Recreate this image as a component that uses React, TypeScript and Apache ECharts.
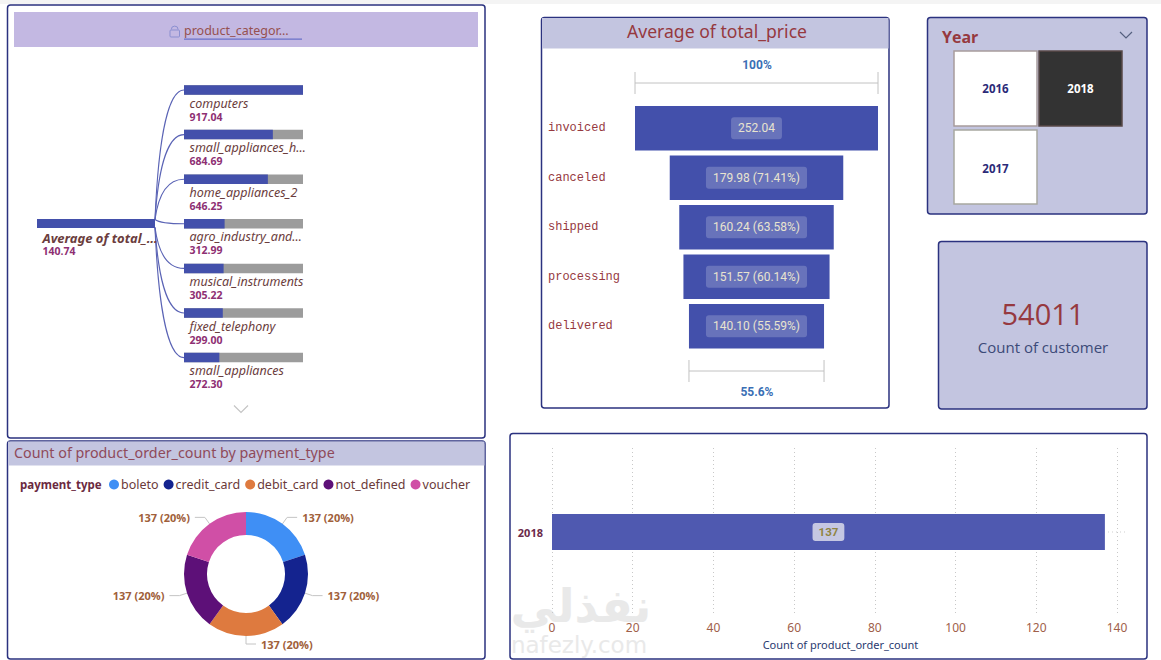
import React, { useEffect, useRef } from "react";
import * as echarts from "echarts";

const categoryNames = ["computers", "small_appliances_h…", "home_appliances_2", "agro_industry_and…", "musical_instruments", "fixed_telephony", "small_appliances"];
const categoryAverages = [917.04, 684.69, 646.25, 312.99, 305.22, 299.0, 272.3];
const rootName = "Average of total_…";
const rootValue = 140.74;
const statusNames = ["invoiced", "canceled", "shipped", "processing", "delivered"];
const statusPrices = [252.04, 179.98, 160.24, 151.57, 140.1];
const paymentTypes = ["boleto", "credit_card", "debit_card", "not_defined", "voucher"];
const paymentCounts = [137, 137, 137, 137, 137];
const paymentColors = ["#3f8ff5", "#14238f", "#de7a3f", "#5d1078", "#d04fa6"];
const years = ["2016", "2018", "2017"];
const customerCount = "54011";
const yearBarCategories = ["2018"];
const yearBarValues = [137];

const UI = "Roboto";
const HAND = "'Comic Sans MS','Noto Sans',sans-serif";
const BORDER = "#2b327f";
const PANEL = "#c3c5e0";
const BLUE = "#4350ab";
const MAROON = "#96393f";

const txt = (text: string, x: number, y: number, o: any = {}) => ({
  type: "text",
  silent: true,
  style: { text, x, y, fill: o.fill || "#333", fontSize: o.size || 12, fontFamily: o.family || UI, fontWeight: o.weight || "normal", fontStyle: o.style || "normal", align: o.align || "left", verticalAlign: "middle" },
});
const box = (x: number, y: number, width: number, height: number, fill: string, stroke?: string, lineWidth = 1.5, r = 3) => ({
  type: "rect",
  silent: true,
  shape: { x, y, width, height, r },
  style: { fill, stroke: stroke || "none", lineWidth },
});
const chevron = (x: number, y: number, w: number, h: number, stroke: string) => ({
  type: "polyline",
  silent: true,
  shape: { points: [[x - w, y - h], [x, y + h], [x + w, y - h]] },
  style: { stroke, fill: "none", lineWidth: 1.2 },
});

const graphicElements = [
  box(0, 0, 1161, 4, "#f4f4f4", undefined, 0, 0),
  box(7.5, 5, 477.5, 433, "#fff", BORDER),
  box(14, 12, 464, 35, "#c3b8e2", undefined, 0, 0),
  { type: "rect", silent: true, shape: { x: 170, y: 30, width: 9.5, height: 7, r: 1 }, style: { fill: "none", stroke: "#8b8fd0", lineWidth: 1 } },
  { type: "arc", silent: true, shape: { cx: 174.7, cy: 29.5, r: 3.4, startAngle: Math.PI, endAngle: 0, clockwise: true }, style: { fill: "none", stroke: "#8b8fd0", lineWidth: 1 } },
  txt("product_categor…", 184, 30, { fill: "#96504f", size: 12.5, family: HAND }),
  box(184, 38.5, 118, 1.2, "#6a70c8", undefined, 0, 0),
  chevron(241, 409, 7, 3.5, "#c4c4c4"),

  box(7.5, 441, 477.5, 218, "#fff", BORDER),
  box(8, 441.5, 476.5, 24, PANEL, undefined, 0, 0),
  txt("Count of product_order_count by payment_type", 14, 452, { fill: "#8f4a5a", size: 14.3, family: HAND }),
  txt("payment_type", 20, 484.5, { fill: "#6b2a3f", size: 11.5, weight: "bold", family: HAND }),

  box(541.5, 17.5, 347.5, 390.5, "#fff", BORDER),
  box(542, 18, 346.5, 30.5, PANEL, "#8a8aa0", 0, 0),
  txt("Average of total_price", 717, 31, { fill: MAROON, size: 17.6, align: "center", family: HAND }),
  txt("100%", 757, 65, { fill: "#3a6fb5", size: 12, weight: "bold", align: "center" }),
  txt("55.6%", 757, 392, { fill: "#3a6fb5", size: 12, weight: "bold", align: "center" }),

  box(927.5, 17.5, 219.5, 196.5, PANEL, BORDER),
  txt("Year", 942, 37, { fill: MAROON, size: 16, weight: "bold", family: "'Open Sans'" }),
  chevron(1126, 35, 6, 3, "#55607f"),
  box(954, 51, 83, 75, "#fff", "#a89c9c", 1.5, 0),
  box(1039, 51, 83, 75, "#333333", "#5a4a48", 1.5, 0),
  box(954, 130, 83, 74, "#fff", "#a8a8a0", 1.5, 0),
  txt(years[0], 995.5, 88, { fill: "#2b2a78", size: 11.5, weight: "bold", align: "center", family: "'Open Sans'" }),
  txt(years[1], 1080.5, 88, { fill: "#fff", size: 11.5, weight: "bold", align: "center", family: "'Open Sans'" }),
  txt(years[2], 995.5, 168, { fill: "#2b2a78", size: 11.5, weight: "bold", align: "center", family: "'Open Sans'" }),

  box(938.5, 241.5, 208.5, 167.5, PANEL, BORDER),
  txt(customerCount, 1043, 313.5, { fill: MAROON, size: 29, align: "center", family: "'Open Sans'" }),
  txt("Count of customer", 1043, 347, { fill: "#3c4a78", size: 15, align: "center", family: "'Open Sans'" }),

  box(510, 433.5, 637, 225.5, "#fff", BORDER),
  txt("نفذلي", 581, 606, { fill: "#e9e9e9", size: 46, weight: "bold", align: "center", family: "'DejaVu Sans'" }),
  txt("nafezly.com", 579, 645, { fill: "#e9e9e9", size: 23, align: "center", family: "'DejaVu Sans'" }),
  { type: "line", silent: true, z: 1, shape: { x1: 1108, y1: 532, x2: 1127, y2: 532 }, style: { stroke: "#cfcfcf", lineWidth: 1, lineDash: [1, 3] } },
];

const treeMax = Math.max(...categoryAverages);
const funnelMax = statusPrices[0];
const funnelLast = statusPrices[statusPrices.length - 1];
const funnelOffsets = statusPrices.map((v) => (funnelMax - v) / 2);

const ROOT_END_X = 155;
const ROOT_Y = 223.5;

const bracket = (y: number, from: number, to: number) => ({ y, from, to });
const brackets = [bracket(83, 0, funnelMax), bracket(371, (funnelMax - funnelLast) / 2, (funnelMax + funnelLast) / 2)];

const option: any = {
  animation: false,
  backgroundColor: "#fff",
  textStyle: { fontFamily: UI },
  graphic: { elements: graphicElements },
  legend: {
    data: paymentTypes,
    left: 104,
    top: 473,
    icon: "circle",
    itemWidth: 10,
    itemHeight: 10,
    itemGap: 5,
    selectedMode: false,
    textStyle: { color: "#6b3a3a", fontSize: 12.5, fontFamily: HAND, padding: [0, 0, 0, -3] },
  },
  grid: [
    { left: 184, top: 67.7, width: 119, height: 312.2 },
    { left: 37, top: 219, width: 118, height: 9 },
    { left: 635, top: 103.5, width: 243, height: 247.5 },
    { left: 552, top: 448, width: 565, height: 168 },
  ],
  xAxis: [
    { gridIndex: 0, type: "value", min: 0, max: treeMax, show: false },
    { gridIndex: 1, type: "value", min: 0, max: rootValue, show: false },
    { gridIndex: 2, type: "value", min: 0, max: funnelMax, show: false },
    {
      gridIndex: 3,
      type: "value",
      min: 0,
      max: 140,
      interval: 20,
      name: "Count of product_order_count",
      nameLocation: "middle",
      nameGap: 23,
      nameTextStyle: { color: "#2a3a70", fontSize: 11, fontFamily: HAND, padding: [0, 0, 0, 12] },
      axisLine: { show: false },
      axisTick: { show: false },
      axisLabel: { color: "#a0604a", fontSize: 12, margin: 5, fontFamily: HAND },
      splitLine: { lineStyle: { type: [1, 3], color: "#c8c8c8" } },
    },
  ],
  yAxis: [
    { gridIndex: 0, type: "category", inverse: true, data: categoryNames, show: false },
    { gridIndex: 1, type: "category", data: [rootName], show: false },
    {
      gridIndex: 2,
      type: "category",
      inverse: true,
      data: statusNames,
      axisLine: { show: false },
      axisTick: { show: false },
      axisLabel: { color: MAROON, fontSize: 12, fontFamily: "'Liberation Mono'", align: "left", margin: 87, padding: [2, 0, 0, 0] },
    },
    {
      gridIndex: 3,
      type: "category",
      data: yearBarCategories,
      axisLine: { show: false },
      axisTick: { show: false },
      axisLabel: { color: "#6b2a4a", fontSize: 11, fontWeight: "bold", margin: 9, fontFamily: "'Open Sans'" },
    },
  ],
  series: [
    {
      type: "custom",
      xAxisIndex: 0,
      yAxisIndex: 0,
      data: categoryNames.map((_, i) => [0, i]),
      encode: { x: 0, y: 1 },
      silent: true,
      z: 1,
      renderItem: (_: any, api: any) => {
        const p = api.coord([0, api.value(1)]);
        const up = p[1] < ROOT_Y - 1;
        const down = p[1] > ROOT_Y + 1;
        const y0 = up ? ROOT_Y - 4 : down ? ROOT_Y + 4 : ROOT_Y - 4;
        const dx = p[0] - ROOT_END_X;
        const dy = p[1] - y0;
        return {
          type: "bezierCurve",
          shape: { x1: ROOT_END_X, y1: y0, x2: p[0], y2: p[1], cpx1: ROOT_END_X + 0.1 * dx, cpy1: y0 + 0.53 * dy, cpx2: ROOT_END_X + 0.38 * dx, cpy2: p[1] },
          style: { stroke: "#5a63b5", fill: "none", lineWidth: 1.1 },
        };
      },
    },
    {
      type: "bar",
      xAxisIndex: 0,
      yAxisIndex: 0,
      data: categoryAverages,
      barWidth: 9.5,
      itemStyle: { color: BLUE },
      showBackground: true,
      backgroundStyle: { color: "#9c9c9c" },
      label: {
        show: true,
        position: [5.5, 11],
        formatter: (p: any) => `{n|${p.name}}\n{v|${p.value.toFixed(2)}}`,
        rich: {
          n: { fontFamily: HAND, fontStyle: "italic", fontSize: 12.5, color: "#6b3d3d", lineHeight: 13.5 },
          v: { fontFamily: "'Open Sans'", fontWeight: "bold", fontSize: 10.5, color: "#8e2f73", lineHeight: 13.5 },
        },
      },
    },
    {
      type: "bar",
      xAxisIndex: 1,
      yAxisIndex: 1,
      data: [rootValue],
      barWidth: 9.5,
      itemStyle: { color: BLUE },
      label: {
        show: true,
        position: [5.5, 12],
        formatter: (p: any) => `{n|${p.name}}\n{v|${p.value.toFixed(2)}}`,
        rich: {
          n: { fontFamily: HAND, fontStyle: "italic", fontWeight: "bold", fontSize: 13, color: "#6b3d3d", lineHeight: 13.5 },
          v: { fontFamily: "'Open Sans'", fontWeight: "bold", fontSize: 10.5, color: "#8e2f73", lineHeight: 13.5 },
        },
      },
    },
    {
      type: "bar",
      xAxisIndex: 2,
      yAxisIndex: 2,
      stack: "funnel",
      data: funnelOffsets,
      barWidth: 44.5,
      itemStyle: { color: "transparent" },
      silent: true,
    },
    {
      type: "bar",
      xAxisIndex: 2,
      yAxisIndex: 2,
      stack: "funnel",
      data: statusPrices,
      barWidth: 44.5,
      itemStyle: { color: BLUE },
      label: {
        show: true,
        position: "inside",
        color: "#e8e4cf",
        fontSize: 12,
        fontFamily: UI,
        backgroundColor: "rgba(255,255,255,0.2)",
        borderRadius: 3,
        padding: [5, 7],
        formatter: (p: any) => (p.dataIndex === 0 ? p.value.toFixed(2) : `${p.value.toFixed(2)} (${((p.value / funnelMax) * 100).toFixed(2)}%)`),
      },
    },
    {
      type: "custom",
      xAxisIndex: 2,
      yAxisIndex: 2,
      data: brackets.map((b) => [b.from, b.to, b.y]),
      encode: { x: [0, 1] },
      silent: true,
      clip: false,
      renderItem: (_: any, api: any) => {
        const a = api.coord([api.value(0), 0])[0];
        const b = api.coord([api.value(1), 0])[0];
        const y = api.value(2);
        const style = { stroke: "#c2c2c2", lineWidth: 1, fill: "none" };
        return {
          type: "group",
          children: [
            { type: "line", shape: { x1: a, y1: y, x2: b, y2: y }, style },
            { type: "line", shape: { x1: a, y1: y - 11, x2: a, y2: y + 11 }, style },
            { type: "line", shape: { x1: b, y1: y - 11, x2: b, y2: y + 11 }, style },
          ],
        };
      },
    },
    {
      type: "bar",
      xAxisIndex: 3,
      yAxisIndex: 3,
      data: yearBarValues,
      barWidth: 36,
      itemStyle: { color: "#4f59b0" },
      label: {
        show: true,
        position: "inside",
        color: "#8f8440",
        fontSize: 11.5,
        fontWeight: "bold",
        fontFamily: UI,
        backgroundColor: "#c5c7e2",
        borderRadius: 3,
        padding: [3, 6],
      },
    },
    {
      type: "pie",
      center: [246, 574],
      radius: [39, 62],
      startAngle: 90,
      data: paymentTypes.map((name, i) => ({ name, value: paymentCounts[i], itemStyle: { color: paymentColors[i] } })),
      label: {
        formatter: (p: any) => `${p.value} (${p.percent.toFixed(0)}%)`,
        color: "#a0603a",
        fontSize: 11,
        fontWeight: "bold",
        fontFamily: "'Open Sans'",
      },
      labelLine: { length: 8, length2: 10, lineStyle: { color: "#c4c4c4", width: 1 } },
    },
  ],
};

export default function App() {
  const ref = useRef<HTMLDivElement>(null);
  useEffect(() => {
    document.body.style.margin = "0";
    const chart = echarts.init(ref.current!, undefined, { renderer: "svg" });
    chart.setOption(option);
    return () => chart.dispose();
  }, []);
  return <div ref={ref} style={{ width: 1161, height: 660 }} />;
}
